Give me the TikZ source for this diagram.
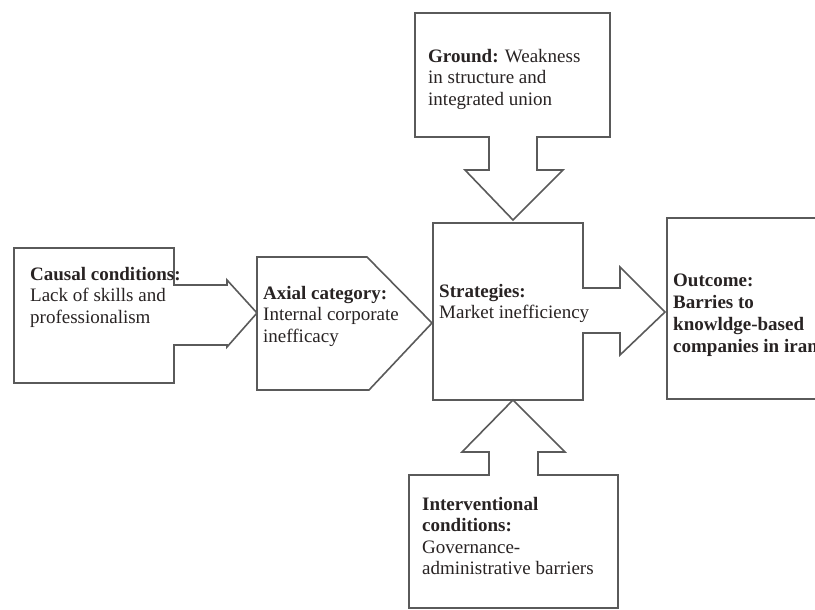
\documentclass[tikz,border=0pt]{standalone}
\usepackage{fontspec}
\setmainfont{Liberation Serif}
\definecolor{edge}{RGB}{90,90,90}
\definecolor{ink}{RGB}{40,35,35}
\tikzset{
  outline/.style={draw=edge, line width=1.6pt, line join=miter, fill=white},
  lbl/.style={anchor=north west, inner sep=0pt, align=left, text=ink,
    font=\fontsize{19}{21.5}\selectfont},
  lblout/.style={lbl, font=\fontsize{19}{22}\selectfont\bfseries}
}
\begin{document}
\begin{tikzpicture}[x=1pt,y=-1pt]
\useasboundingbox (0,0) rectangle (815,610);
\clip (0,0) rectangle (815,610);
\fill[white] (0,0) rectangle (815,610);
% Ground box with down arrow
\draw[outline] (415,13) -- (610,13) -- (610,137) -- (537,137) -- (537,170) -- (563,170)
  -- (513,220) -- (465,170) -- (489,170) -- (489,137) -- (415,137) -- cycle;
% Causal conditions box with right arrow
\draw[outline] (14,248) -- (174,248) -- (174,285) -- (227,285) -- (227,280) -- (257,313)
  -- (227,347) -- (227,345) -- (174,345) -- (174,383) -- (14,383) -- cycle;
% Axial category pentagon
\draw[outline] (257,257) -- (367,257) -- (432,323) -- (369,390) -- (257,390) -- cycle;
% Strategies box with right arrow
\draw[outline] (433,223) -- (583,223) -- (583,288) -- (620,288) -- (620,267) -- (665,312)
  -- (620,355) -- (620,333) -- (583,333) -- (583,400) -- (433,400) -- cycle;
% Outcome box
\draw[outline] (667,218) -- (830,218) -- (830,399) -- (667,399) -- cycle;
% Interventional box with up arrow
\draw[outline] (409,475) -- (489,475) -- (489,452) -- (462,452) -- (513,400) -- (565,452)
  -- (538,452) -- (538,475) -- (618,475) -- (618,608) -- (409,608) -- cycle;
% Labels
\node[lbl] (ground) at (428,49) {\textbf{Ground:} Weakness\\in structure and\\integrated union};
\node[lbl] (causal) at (30,267) {\textbf{Causal conditions:}\\Lack of skills and\\professionalism};
\node[lbl] (axial) at (263,286) {\textbf{Axial category:}\\Internal corporate\\inefficacy};
\node[lbl] (strat) at (439,284) {\textbf{Strategies:}\\Market inefficiency};
\node[lblout] (outcome) at (673,274) {Outcome:\\Barries to\\knowldge-based\\companies in iran};
\node[lbl] (interv) at (422,497) {\textbf{Interventional}\\\textbf{conditions:}\\Governance-\\administrative barriers};
\end{tikzpicture}
\end{document}
